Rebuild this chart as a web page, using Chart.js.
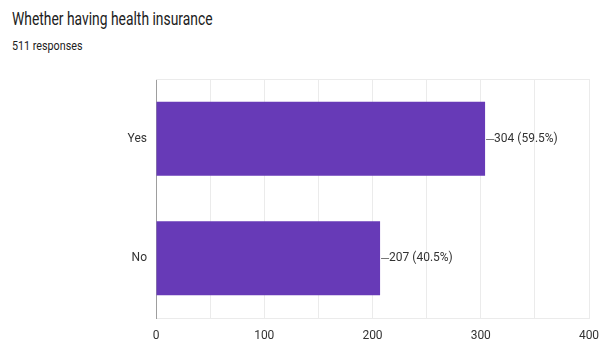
<!DOCTYPE html>
<html>
<head>
<meta charset="utf-8">
<script src="https://cdn.jsdelivr.net/npm/chart.js@4"></script>
<style>
  body { margin: 0; background: #fff; font-family: Roboto, sans-serif; }
  #wrap { position: relative; width: 600px; height: 341px; }
  #title { position: absolute; left: 12px; top: 8px; font-size: 18px; color: #212121; transform: scaleX(0.77); transform-origin: 0 0; white-space: nowrap; }
  #sub { position: absolute; left: 12px; top: 38px; font-size: 12.5px; color: #212121; transform: scaleX(0.86); transform-origin: 0 0; white-space: nowrap; }
  canvas { position: absolute; left: 0; top: 0; }
</style>
</head>
<body>
<div id="wrap">
  <div id="title">Whether having health insurance</div>
  <div id="sub">511 responses</div>
  <canvas id="myChart" width="600" height="341"></canvas>
</div>
<script>
const categories = ['Yes', 'No'];
const counts = [304, 207];
const xTicks = [0, 100, 200, 300, 400];

const total = counts.reduce((a, b) => a + b, 0);

// draws the "304 (59.5%)" labels with a short leader line
const barLabels = {
  id: 'barLabels',
  afterDatasetsDraw(chart) {
    const c = chart.ctx;
    const meta = chart.getDatasetMeta(0);
    c.save();
    c.font = '12px Roboto, sans-serif';
    c.fillStyle = '#333';
    c.strokeStyle = '#777';
    c.lineWidth = 1;
    c.textBaseline = 'middle';
    meta.data.forEach((bar, i) => {
      const v = counts[i];
      const pct = (v / total * 100).toFixed(1);
      c.beginPath();
      c.moveTo(bar.x + 1, Math.round(bar.y) + 0.5);
      c.lineTo(bar.x + 9, Math.round(bar.y) + 0.5);
      c.stroke();
      c.fillText(v + ' (' + pct + '%)', bar.x + 9, bar.y);
    });
    c.restore();
  }
};

// thin frame line along the top of the plot area
const frame = {
  id: 'frame',
  beforeDatasetsDraw(chart) {
    const a = chart.chartArea;
    const c = chart.ctx;
    c.save();
    c.strokeStyle = '#ebebeb';
    c.lineWidth = 1;
    c.beginPath();
    c.moveTo(a.left, a.top + 0.5);
    c.lineTo(a.right, a.top + 0.5);
    c.stroke();
    c.restore();
  }
};

const ctx = document.getElementById('myChart');
new Chart(ctx, {
  type: 'bar',
  data: {
    labels: categories,
    datasets: [{
      data: counts,
      backgroundColor: '#673ab7',
      borderWidth: 0,
      barPercentage: 0.62,
      categoryPercentage: 1
    }]
  },
  options: {
    indexAxis: 'y',
    responsive: false,
    animation: false,
    layout: { padding: { top: 79, right: 0, left: 0, bottom: 0 } },
    plugins: {
      legend: { display: false },
      tooltip: { enabled: false }
    },
    scales: {
      x: {
        min: xTicks[0],
        max: xTicks[xTicks.length - 1],
        afterFit(s) {
          s.height = 23;
          s.paddingRight = 11;
          s.paddingLeft = 0;
        },
        ticks: {
          stepSize: 50,
          padding: 11,
          color: '#333',
          font: { family: 'Roboto', size: 12 },
          maxRotation: 0,
          autoSkip: false,
          callback: v => xTicks.includes(v) ? v : ''
        },
        grid: { color: '#ebebeb', drawTicks: false },
        border: { color: '#ebebeb' }
      },
      y: {
        afterFit(s) { s.width = 156; },
        ticks: {
          padding: 9,
          color: '#333',
          font: { family: 'Roboto', size: 12 }
        },
        grid: { display: false, drawTicks: false },
        border: { color: '#9e9e9e', width: 1 }
      }
    }
  },
  plugins: [frame, barLabels]
});
</script>
</body>
</html>
